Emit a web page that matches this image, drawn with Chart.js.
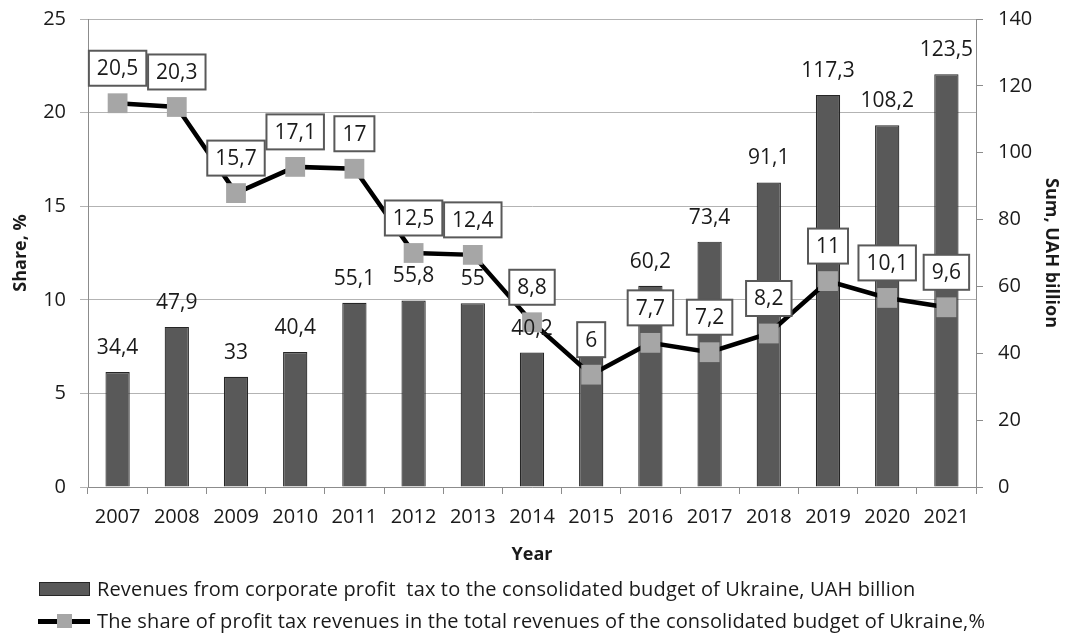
<!DOCTYPE html>
<html>
<head>
<meta charset="utf-8">
<script src="https://cdn.jsdelivr.net/npm/chart.js@4.4.0/dist/chart.umd.min.js"></script>
<style>
  body { margin:0; background:#fff; font-family:'Open Sans', sans-serif; }
  #wrap { position:relative; width:1079px; height:637px; }
  #chart { position:absolute; left:0; top:0; }
  .leg { position:absolute; left:97px; font-size:20px; letter-spacing:0.15px; color:#1a1a1a; white-space:pre; line-height:24px; }
  .sw-bar { position:absolute; left:39px; top:582px; width:49px; height:12px; background:#595959; border:1px solid #262626; }
  .sw-line { position:absolute; left:38px; top:619px; width:52px; height:5px; background:#000; }
  .sw-pt { position:absolute; left:57px; top:614px; width:15px; height:14px; background:#a6a6a6; }
</style>
</head>
<body>
<div id="wrap">
  <canvas id="chart" width="1079" height="637"></canvas>
  <div class="sw-bar"></div>
  <div class="leg" style="top:577px">Revenues from corporate profit  tax to the consolidated budget of Ukraine, UAH billion</div>
  <div class="sw-line"></div><div class="sw-pt"></div>
  <div class="leg" style="top:609px">The share of profit tax revenues in the total revenues of the consolidated budget of Ukraine,%</div>
</div>
<script>
const years    = ['2007','2008','2009','2010','2011','2012','2013','2014','2015','2016','2017','2018','2019','2020','2021'];
const revenues = [34.4, 47.9, 33, 40.4, 55.1, 55.8, 55, 40.2, 39.1, 60.2, 73.4, 91.1, 117.3, 108.2, 123.5];
// bar value labels as printed (the 2015 one sits hidden behind the "6" box)
const barLabels = ['34,4','47,9','33','40,4','55,1','55,8','55','40,2','','60,2','73,4','91,1','117,3','108,2','123,5'];
const share    = [20.5, 20.3, 15.7, 17.1, 17, 12.5, 12.4, 8.8, 6, 7.7, 7.2, 8.2, 11, 10.1, 9.6];

const txt = '#1a1a1a';
const axisGray = '#8c8c8c';
const fmt = v => String(v).replace('.', ',');

// value labels: plain text over bars, boxed text over line points
const labelPlugin = {
  id: 'valueLabels',
  afterDatasetsDraw(chart){
    const ctx = chart.ctx;
    const bars = chart.getDatasetMeta(0).data;
    const pts  = chart.getDatasetMeta(1).data;
    ctx.save();
    ctx.font = '21px "Open Sans"';
    ctx.textAlign = 'center';
    ctx.textBaseline = 'middle';
    ctx.fillStyle = txt;
    bars.forEach((el,i) => ctx.fillText(barLabels[i], el.x, el.y - 24));
    pts.forEach((el,i) => {
      const t = fmt(share[i]);
      const w = ctx.measureText(t).width + 16, h = 35, cy = el.y - 35;
      ctx.fillStyle = '#fff';
      ctx.fillRect(el.x - w/2, cy - h/2, w, h);
      ctx.strokeStyle = '#595959';
      ctx.lineWidth = 2;
      ctx.strokeRect(el.x - w/2, cy - h/2, w, h);
      ctx.fillStyle = txt;
      ctx.fillText(t, el.x, cy + 1);
    });
    ctx.restore();
  }
};

const noPad = s => { s.paddingTop = 0; s.paddingBottom = 0; };

new Chart(document.getElementById('chart'), {
  type: 'bar',
  data: {
    labels: years,
    datasets: [
      { type:'bar', label:'Revenues', data: revenues, yAxisID:'y1', order:2,
        backgroundColor:'#595959', borderColor:'#262626', borderWidth:1.2,
        categoryPercentage:1, barPercentage:0.41 },
      { type:'line', label:'Share', data: share, yAxisID:'y', order:1,
        borderColor:'#000', borderWidth:4.5, tension:0,
        pointStyle:'rect', pointRadius:14, pointHoverRadius:14,
        pointBackgroundColor:'#a6a6a6', pointBorderWidth:0 }
    ]
  },
  options: {
    responsive:false, animation:false,
    layout:{ padding:{ top:19, bottom:71, left:0, right:0 } },
    plugins:{ legend:{ display:false }, tooltip:{ enabled:false } },
    scales:{
      x:{
        offset:true,
        grid:{ offset:true, drawOnChartArea:false, drawTicks:true, tickLength:7, color:axisGray },
        border:{ color:axisGray },
        ticks:{ color:txt, font:{ family:'Open Sans', size:20 }, padding:11, maxRotation:0 },
        title:{ display:true, text:'Year', color:txt, font:{ family:'Open Sans', size:18, weight:'bold' }, padding:{ top:0, bottom:0 } },
        afterFit: s => { s.height = 79; s.paddingLeft = 0; s.paddingRight = 0; }
      },
      y:{
        position:'left', min:0, max:25,
        grid:{ color:'#b3b3b3', tickLength:8 },
        border:{ color:axisGray },
        ticks:{ stepSize:5, color:txt, font:{ family:'Open Sans', size:20 }, padding:14 },
        title:{ display:true, text:'Share, %', color:txt, font:{ family:'Open Sans', size:18, weight:'bold' }, padding:{ top:10, bottom:0 } },
        afterFit: s => { s.width = 88; noPad(s); }
      },
      y1:{
        position:'right', min:0, max:140,
        grid:{ drawOnChartArea:false, tickLength:7, color:axisGray },
        border:{ color:axisGray },
        ticks:{ stepSize:20, color:txt, font:{ family:'Open Sans', size:20 }, padding:15 },
        title:{ display:true, text:'Sum, UAH billion', color:txt, font:{ family:'Open Sans', size:18, weight:'bold' }, padding:{ top:17, bottom:0 } },
        afterFit: s => { s.width = 103; noPad(s); }
      }
    }
  },
  plugins:[labelPlugin]
});
</script>
</body>
</html>
